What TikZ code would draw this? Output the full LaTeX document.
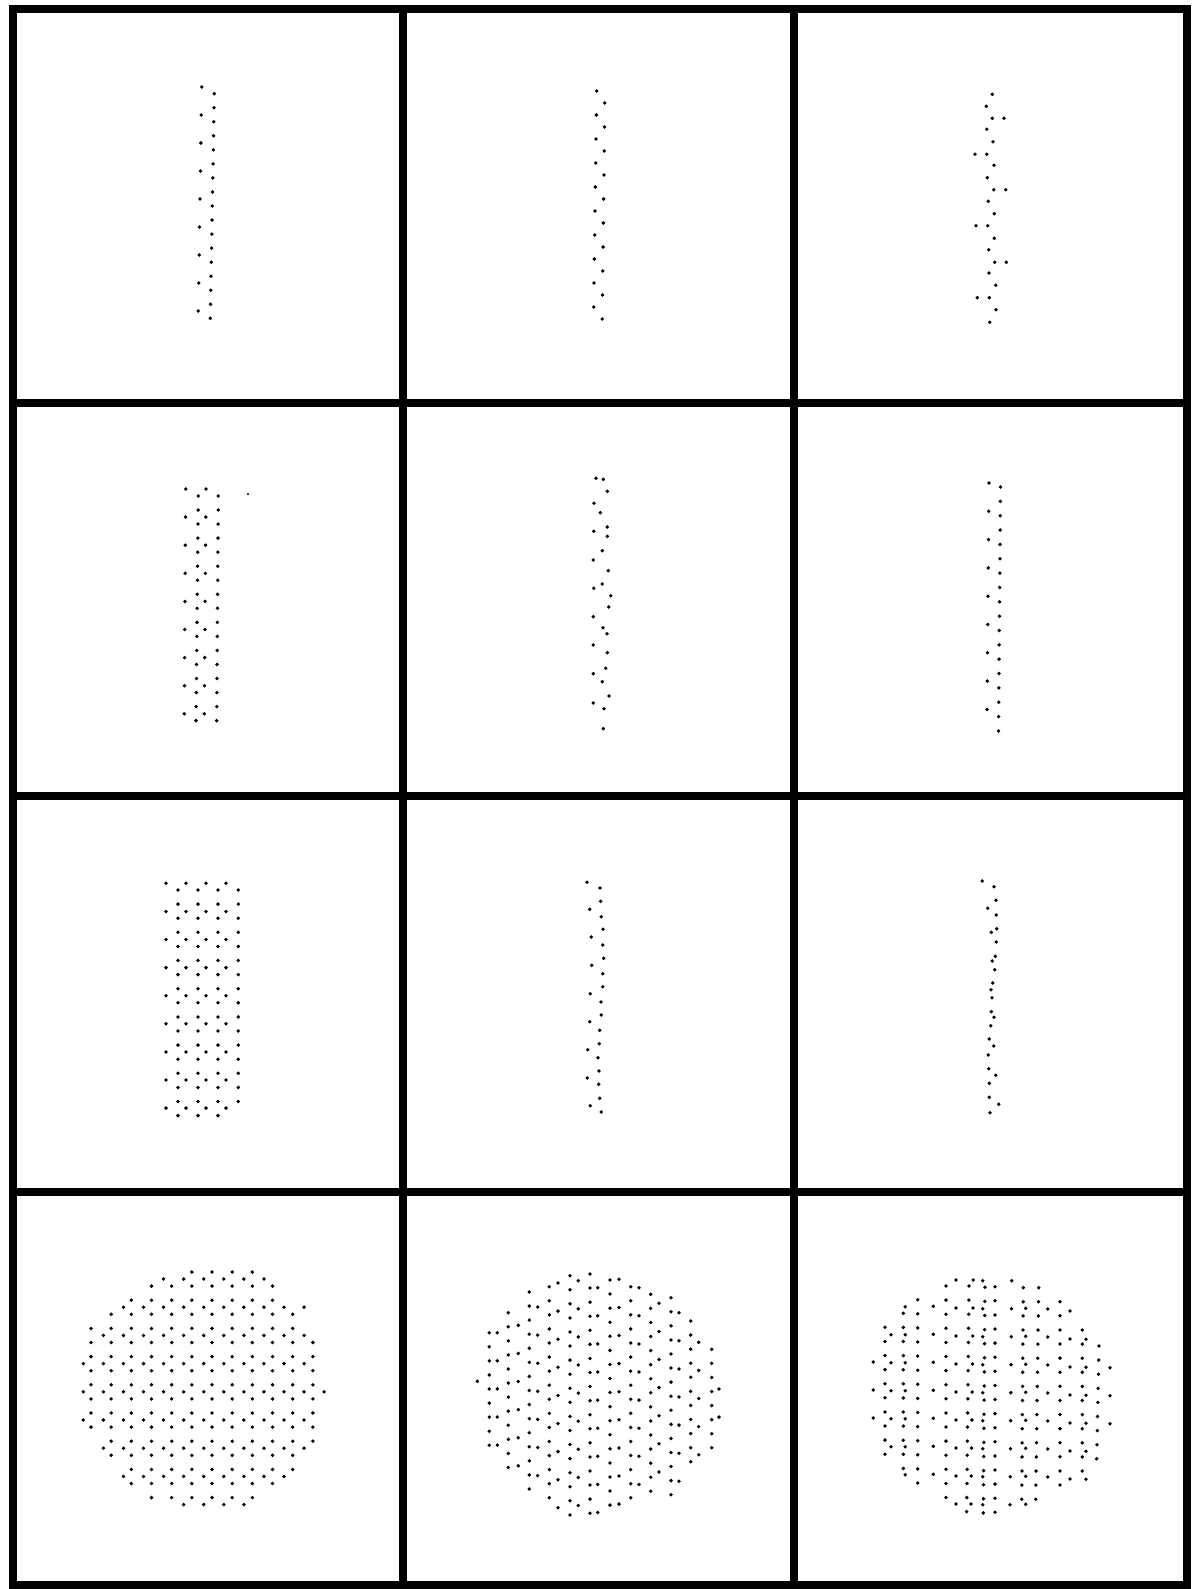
\documentclass[tikz,border=0pt]{standalone}
\usetikzlibrary{calc}
\begin{document}
\begin{tikzpicture}[x=1pt,y=-1pt]
\tikzset{gridline/.style={line width=8.5pt,line cap=rect,black}}
\def\dr{1.9}
% column of dots: x0, x1 (drift), ystart, step, count
\newcommand\dotcol[5]{%
  \pgfmathtruncatemacro\nnn{#5-1}%
  \foreach \i in {0,...,\nnn}{%
    \pgfmathsetmacro\xx{(#1)+((#2)-(#1))*\i/max(\nnn,1)}%
    \pgfmathsetmacro\yy{(#3)+(#4)*\i}%
    \fill (\xx,\yy) circle (\dr);}}
% row of dots: x0, dx, y, kmin, kmax
\newcommand\dotrow[5]{%
  \foreach \k in {#4,...,#5}{%
    \pgfmathsetmacro\xx{(#1)+(#2)*\k}%
    \fill (\xx,#3) circle (\dr);}}
\useasboundingbox (0,0) rectangle (1192,1589);
\fill[white] (0,0) rectangle (1192,1589);
% grid
\draw[gridline] (13,9) rectangle (1187,1585);
\draw[gridline] (403,9) -- (403,1585);
\draw[gridline] (794,9) -- (794,1585);
\draw[gridline] (13,403) -- (1187,403);
\draw[gridline] (13,796) -- (1187,796);
\draw[gridline] (13,1192) -- (1187,1192);

% ---- row 1 ----
% r1c1
\dotcol{201.7}{198.3}{87}{28}{9}
\dotcol{214.3}{210.3}{93.7}{14.04}{17}
% r1c2 zigzag
\dotcol{596.7}{593.7}{91}{24}{10}
\dotcol{604.7}{602.3}{103}{24}{10}
% r1c3
\foreach \x/\y in {992.3/94.3,986.3/106.3,992.3/118.3,1004/118.3,986.7/129.3,993/141.7,975/154.3,986.7/154.3,994/165.3,987.3/177.7,993.7/189.7,1005.7/189.7,988.3/201.3,994.3/213.7,976/225.7,987.7/225.7,994.3/238.3,988.7/249.7,994.7/262.3,1006.3/262.3,989/273,995.7/285.3,977.3/297.7,989.3/297.7,996/309.7,989.7/322.3}
  {\fill (\x,\y) circle (\dr);}

% ---- row 2 ----
% r2c1
\dotcol{185.7}{184.3}{489}{28.1}{9}
\dotcol{206}{204.3}{489}{28.1}{9}
\dotcol{198.3}{196}{496}{14.04}{17}
\dotcol{218.3}{216.7}{496}{14.04}{17}
\fill (248,494) circle (1.1);
% r2c2
\foreach \x/\y in {596/478.3,603.3/479.3,607.3/491.3,594/503.3,600.3/512.7,607.3/527,593.7/531.3,607.3/536.3,602.3/550.7,593.3/560,608.3/570.7,602.3/584,593.7/588.3,610.7/595.7,608.7/607,593.3/616.7,603/627.7,607/633.7,593.3/645,607.3/652.7,605.7/668.3,593.3/673.7,602.3/681.7,609/696,593.3/703,604/708.7,603.3/728.7}
  {\fill (\x,\y) circle (\dr);}
% r2c3 (approximate)
\dotcol{989}{987}{483}{28.3}{9}
\dotcol{1000.5}{998.5}{487}{14.35}{18}

% ---- row 3 ----
% r3c1
\foreach \dx in {0,20,40,60}{%
  \dotcol{166+\dx}{166+\dx}{883.3}{28.1}{9}}
\foreach \dx in {0,20,40}{%
  \dotcol{178+\dx}{178+\dx}{890}{14.1}{17}}
\dotcol{238.3}{238.3}{890}{14.1}{16}
% r3c2
\foreach \x/\y in {587/882.3,600/888,600.7/901.3,589.7/909.3,601.3/916.7,603/929.3,591.3/937,602.7/945,603.7/958.3,591.7/965.3,602.7/973.7,602.7/986.7,590.3/993.7,601/1002,601.3/1015,589.7/1021.7,599.7/1030.3,599.3/1043.7,587.7/1049.7,598/1057.7,599/1071,587.3/1078,598.7/1084.3,599.7/1098.3,590.3/1105.7,601.3/1112}
  {\fill (\x,\y) circle (\dr);}
% r3c3
\foreach \x/\y in {982.3/881,994/886.7,996/900.3,987.7/908.3,996.3/915,996.7/928.7,991.3/932.3,996.3/942,995.3/956.3,992.3/961,994.7/969.7,992.7/983,991/989.7,992/997.7,991.3/1011.7,994/1017.3,990.7/1025.7,989.3/1039,993.7/1046,988.3/1055,988.7/1068.7,995.7/1075.3,989.3/1083.3,989.3/1097.3,998.7/1104.3,990/1112.7}
  {\fill (\x,\y) circle (\dr);}

% ---- row 4 ----
% r4c1 : B rows every 14, A rows every 28
\foreach \m/\a/\b in {0/5/8,1/3/9,2/2/9,3/1/10,4/0/10,5/0/11,6/0/11,7/0/11,8/0/11,9/0/11,10/0/11,11/0/11,12/1/11,13/1/10,14/2/10,15/2/9,16/3/8}{%
  \pgfmathsetmacro\yr{1272+14.1*\m}%
  \dotrow{91}{20.17}{\yr}{\a}{\b}}
\foreach \n/\a/\b in {0/4/9,1/2/11,2/1/11,3/0/11,4/0/12,5/0/11,6/1/11,7/2/10,8/5/8}{%
  \pgfmathsetmacro\yr{1279+28.2*\n}%
  \dotrow{83.3}{20.07}{\yr}{\a}{\b}}
% r4c2 : main columns (step 14) and secondary columns (step 28)
\foreach \x/\y/\c in {489.3/1332.7/9,508.3/1312.7/12,529.3/1292/15,549.3/1286.7/16,570/1275.7/18,590/1274/18,610/1280/17,630.7/1286.7/16,650.7/1294.3/15,671/1297.7/15,690.7/1321/11,711.7/1349.3/8}
  {\dotcol{\x}{\x}{\y}{14.07}{\c}}
\foreach \x/\y/\c in {497.3/1332.7/5,518.3/1325.3/6,537.7/1307/7,558/1283/9,578.3/1280.7/9,597.7/1287.7/9,619/1279.3/9,639/1287.7/8,659/1303.3/7,679/1312.7/7,698.7/1342.3/5,719/1389/2}
  {\dotcol{\x}{\x}{\y}{28.1}{\c}}
\fill (477.3,1381.3) circle (\dr);
% r4c3
\foreach \xa/\xb/\y/\c in {885/885/1327.3/10,903.3/903.3/1313.3/12,917.7/917.7/1299.7/14,946/946/1286/16,969/966.7/1286/17,985/983.3/1287.3/17,995/995/1286.7/17,1023.3/1021.7/1287.7/16,1038.7/1035.7/1287.7/16,1060/1060/1301.7/14,1082.3/1082.3/1330/11,1099/1096.7/1346/9}
  {\dotcol{\xa}{\xb}{\y}{14.1}{\c}}
\foreach \xa/\xb/\y/\c in {873.3/873.3/1362/3,891/891/1334.7/5,905.3/905.3/1306.7/7,933.3/933.3/1306.3/7,956/956/1280/9,973.3/971/1280/9,982.7/982.7/1280.7/9,1011.7/1010/1280.7/9,1025.7/1025.7/1308.3/8,1047.7/1047.7/1309/7,1070/1070/1311/7,1086/1086/1339.3/6,1110/1110/1367.7/3}
  {\dotcol{\xa}{\xb}{\y}{28}{\c}}
\end{tikzpicture}
\end{document}
